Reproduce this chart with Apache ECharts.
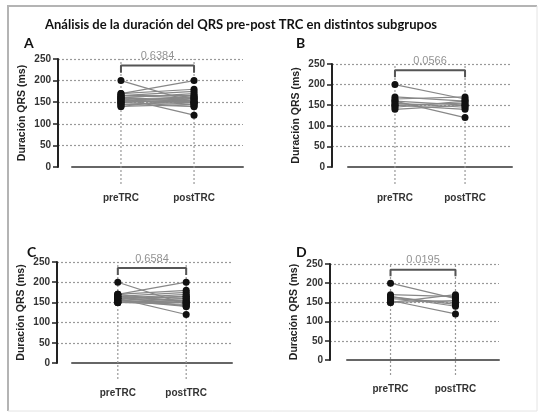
<!DOCTYPE html>
<html>
<head>
<meta charset="utf-8">
<script src="https://cdn.jsdelivr.net/npm/echarts@6/dist/echarts.min.js"></script>
<style>
  html, body { margin: 0; background: #fff; }
  #chart { width: 542px; height: 412px; }
</style>
</head>
<body>
<div id="chart"></div>
<script>
const categories = ['preTRC', 'postTRC'];
const panelLetters = ['A', 'B', 'C', 'D'];
const pValues = ['0.6384', '0.0566', '0.6584', '0.0195'];

// paired QRS duration (ms) per patient, pre / post CRT
const preA = [200, 170, 170, 165, 165, 160, 160, 160, 155, 155, 155, 150, 150, 150, 145, 145, 140, 140, 165, 160];
const postA = [150, 200, 180, 175, 165, 170, 155, 120, 160, 150, 145, 155, 140, 165, 150, 140, 145, 160, 160, 150];
const preB = [200, 170, 165, 160, 160, 155, 150, 150, 145, 140];
const postB = [165, 160, 170, 120, 150, 145, 155, 140, 160, 150];
const preC = [200, 170, 170, 165, 165, 160, 160, 160, 155, 155, 155, 150, 150, 150, 170, 165, 160, 150];
const postC = [145, 200, 180, 175, 160, 170, 155, 120, 165, 150, 140, 155, 145, 160, 150, 140, 165, 150];
const preD = [200, 170, 165, 165, 160, 155, 150, 150];
const postD = [160, 165, 145, 140, 150, 120, 170, 155];

const bracketTop = 235;
const bracketLeg = 218;

const panels = [
  { pre: preA, post: postA, axisX: 58, lineL: 72, lineR: 243, top: 59, zero: 167, base: 184, letterX: 19, letterY: 31 },
  { pre: preB, post: postB, axisX: 332, lineL: 348, lineR: 512, top: 64, zero: 167, base: 184, letterX: 291, letterY: 31 },
  { pre: preC, post: postC, axisX: 57, lineL: 72, lineR: 232, top: 262, zero: 363, base: 379, letterX: 22, letterY: 240 },
  { pre: preD, post: postD, axisX: 330, lineL: 347, lineR: 499, top: 264, zero: 360, base: 375, letterX: 291, letterY: 240 }
];

const FONT = 'Liberation Sans';
const grid = [];
const xAxis = [];
const yAxis = [];
const series = [];
const title = [{
  text: 'Análisis de la duración del QRS pre-post TRC en distintos subgrupos',
  left: 40,
  top: 13,
  textStyle: { fontFamily: 'Lato', fontWeight: 'bold', fontSize: 13, color: '#111' }
}];

panels.forEach((p, i) => {
  const g1 = i * 2;
  const g2 = i * 2 + 1;
  title.push({
    text: panelLetters[i],
    left: p.letterX,
    top: p.letterY,
    textStyle: { fontFamily: 'Lato', fontWeight: 'bold', fontSize: 14, color: '#111' }
  });

  // grid with the visible y axis and horizontal dotted lines
  grid.push({ left: p.axisX, top: p.top, width: p.lineR - p.axisX, height: p.zero - p.top });
  xAxis.push({ gridIndex: g1, type: 'value', show: false, min: 0, max: 1 });
  yAxis.push({
    gridIndex: g1,
    type: 'value',
    min: 0,
    max: 250,
    interval: 50,
    name: 'Duración QRS (ms)',
    nameLocation: 'middle',
    nameGap: 30,
    nameTextStyle: { fontFamily: FONT, fontWeight: 'bold', fontSize: 10.5, color: '#222' },
    axisLine: { show: true, lineStyle: { color: '#222', width: 2 } },
    axisTick: { show: true, length: 5, lineStyle: { color: '#222', width: 1.5 } },
    axisLabel: { margin: 7, fontFamily: FONT, fontWeight: 'bold', fontSize: 10, color: '#333' },
    splitLine: { show: true, showMinLine: false, lineStyle: { color: '#999', type: [2, 2], width: 1.2 } }
  });

  // grid with the category axis and the paired data
  const yMin = -(p.base - p.zero) * 250 / (p.zero - p.top);
  grid.push({ left: p.lineL, top: p.top, width: p.lineR - p.lineL, height: p.base - p.top });
  xAxis.push({
    gridIndex: g2,
    type: 'value',
    min: -0.67,
    max: 1.67,
    axisLine: { show: true, lineStyle: { color: '#666', width: 2 } },
    axisTick: { show: false },
    axisLabel: {
      customValues: [0, 1],
      margin: 9,
      formatter: (v) => categories[Math.round(v)],
      fontFamily: FONT, fontWeight: 'bold', fontSize: 10, color: '#333'
    },
    splitLine: { show: false }
  });
  yAxis.push({ gridIndex: g2, type: 'value', min: yMin, max: 250, show: false });

  // dotted guide above each category
  [0, 1].forEach((c) => {
    series.push({
      type: 'line',
      xAxisIndex: g2, yAxisIndex: g2,
      data: [[c, yMin], [c, 250]],
      showSymbol: false,
      silent: true,
      z: 1,
      lineStyle: { color: '#999', type: [2, 2], width: 1.2 }
    });
  });

  p.pre.forEach((v, k) => {
    series.push({
      type: 'line',
      xAxisIndex: g2, yAxisIndex: g2,
      data: [[0, v], [1, p.post[k]]],
      showSymbol: false,
      silent: true,
      z: 2,
      lineStyle: { color: '#888', width: 1.2 }
    });
  });

  series.push({
    type: 'scatter',
    xAxisIndex: g2, yAxisIndex: g2,
    data: p.pre.map((v) => [0, v]).concat(p.post.map((v) => [1, v])),
    symbolSize: 7,
    silent: true,
    z: 3,
    itemStyle: { color: '#111', opacity: 1 }
  });

  series.push({
    type: 'line',
    xAxisIndex: g2, yAxisIndex: g2,
    data: [[0, bracketLeg], [0, bracketTop], [1, bracketTop], [1, bracketLeg]],
    showSymbol: false,
    silent: true,
    z: 4,
    lineStyle: { color: '#555', width: 2 }
  });

  series.push({
    type: 'scatter',
    xAxisIndex: g2, yAxisIndex: g2,
    data: [[0.5, bracketTop]],
    symbolSize: 0,
    silent: true,
    z: 5,
    label: {
      show: true,
      position: 'top',
      distance: 4,
      formatter: () => pValues[i],
      fontFamily: FONT, fontSize: 11, color: '#777'
    }
  });
});

const chart = echarts.init(document.getElementById('chart'));
chart.setOption({
  animation: false,
  backgroundColor: '#fff',
  title,
  grid,
  xAxis,
  yAxis,
  series,
  graphic: [
    { type: 'polyline', silent: true, shape: { points: [[8, 411], [8, 6], [537, 6]] }, style: { stroke: '#b4b4b4', lineWidth: 2, fill: null } },
    { type: 'polyline', silent: true, shape: { points: [[537, 6], [537, 411], [8, 411]] }, style: { stroke: '#e4e4e4', lineWidth: 1, fill: null } }
  ]
});
</script>
</body>
</html>
